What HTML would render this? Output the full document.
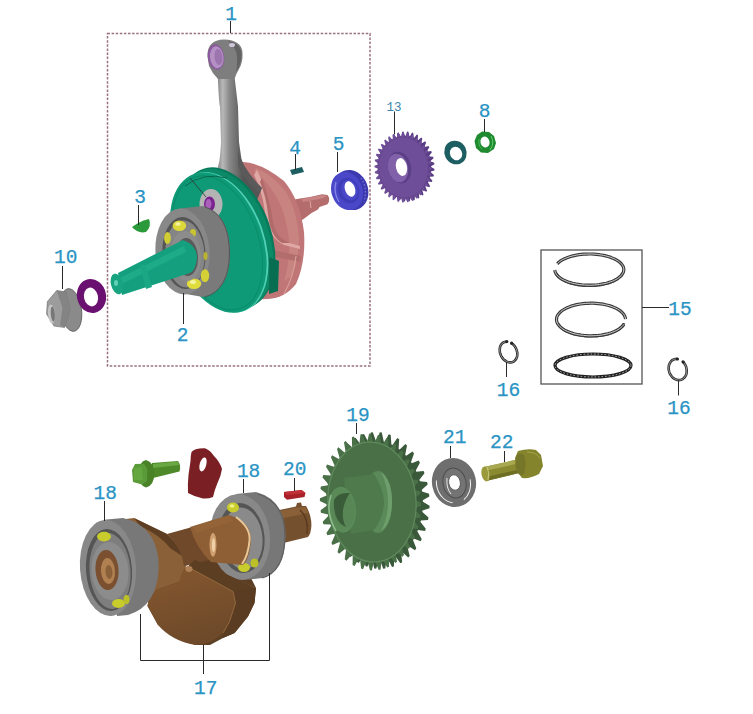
<!DOCTYPE html>
<html><head><meta charset="utf-8">
<style>
html,body{margin:0;padding:0;background:#fff;width:753px;height:714px;overflow:hidden}
svg{display:block}
.lb{font-family:"Liberation Mono",monospace;font-size:19.5px;fill:#2a94c4;stroke:#2a94c4;stroke-width:0.25px}
.ld{stroke:#2a2a2a;stroke-width:1;fill:none}
</style></head><body>
<svg width="753" height="714" viewBox="0 0 753 714">
<defs></defs>
<!-- dashed box -->
<rect x="107.5" y="33.5" width="262.5" height="332.5" fill="none" stroke="#98727e" stroke-width="1.5" stroke-dasharray="2.5 1.6"/>
<!-- piston ring box -->
<rect x="541" y="250" width="101" height="134" fill="none" stroke="#555" stroke-width="1.3"/>

<g id="parts">
<!-- ============ TOP ASSEMBLY ============ -->
<!-- pink shaft right -->
<path d="M291,200 L301.6,198.3 L310,197 L322,194.3 L327.5,195 Q331,199 327.5,204.3 L319.5,207 L318,209.6 L311.5,213 L303,219.5 L294,222 Z" fill="#b46c6c"/>
<path d="M301.6,199 L322,195 L327,196 L322,198.5 L303,202 Z" fill="#c88484"/>
<path d="M310,201 L311,208" stroke="#e0a8a8" stroke-width="1" fill="none"/>
<!-- pink flywheel -->
<path d="M243,162 Q262,163 284,181 Q300,200 304,232 Q306,262 296,284 Q285,298 268,299 L238,300 L236,170 Z" fill="#c07676"/>
<path d="M256,168 Q274,176 286,192 Q297,210 299,238 Q299,258 292,276 L284,281 Q290,262 289,240 Q286,210 272,190 Q264,178 254,172 Z" fill="#c88480"/>
<path d="M257,170 Q265,185 268,208 Q272,234 286,242 L300,246 L300,249 L284,245 Q268,238 265,212 Q262,190 254,175 Z" fill="#e0a8a4"/>
<path d="M262,178 Q270,200 273,222 Q276,238 290,243 L282,243 Q270,236 268,214 Q266,196 260,182 Z" fill="#b06a6a"/>
<path d="M272,250 L301,256 L300,262 L272,256 Z" fill="#b26e6c"/>
<path d="M296,256 Q294,276 284,294" stroke="#d89c98" stroke-width="1.2" fill="none"/>
<!-- connecting rod -->
<defs><linearGradient id="rodg" gradientUnits="userSpaceOnUse" x1="216" y1="0" x2="243" y2="0">
<stop offset="0" stop-color="#7a7a7a"/><stop offset="0.25" stop-color="#b8b8b8"/><stop offset="0.5" stop-color="#888"/><stop offset="0.8" stop-color="#6a6a6a"/><stop offset="1" stop-color="#555"/></linearGradient></defs>
<path d="M217.6,73 Q219,106 220,106.4 Q221,142 221,142 Q220,160 218.8,163.6 L216.4,173 L232,180 L257,200 L262,188 Q250,178 247.4,173 Q243,165 241.4,158.8 Q239,142 239,142 L238,106.4 Q235,80 234,73 Z" fill="url(#rodg)"/>
<path d="M216.4,173 L232,180 L257,200 L250,203 L230,186 L216,180 Z" fill="#707070"/>
<path d="M238,150 Q242,168 262,188 L258,192 Q244,180 238,166 Z" fill="#5a5a5a"/>
<!-- rod small end -->
<path d="M207.5,56 Q207,40 224,39.5 Q242,40 242.5,53 Q243,63 238.5,70 Q236,74 234.5,79 L218,79 Q212,73 209,66 Z" fill="#7e7e7e"/>
<path d="M228,41 Q241,43 241.5,54 Q241.5,64 236,72 Q238,62 236.5,53 Q234,45 228,41 Z" fill="#626262"/>
<ellipse cx="216" cy="57" rx="8.3" ry="12.8" transform="rotate(-6 216 57)" fill="#8a5a9c"/>
<ellipse cx="216.8" cy="57.2" rx="6.8" ry="11" transform="rotate(-6 216.8 57.2)" fill="#b490c4"/>
<ellipse cx="218.5" cy="57" rx="4" ry="8" transform="rotate(-6 218.5 57)" fill="#9c74ae"/>
<ellipse cx="232" cy="45" rx="3" ry="2" fill="#d0c4d8"/>
<!-- green flywheel back/rim -->
<ellipse cx="227" cy="237.5" rx="44.4" ry="72.8" transform="rotate(-19.5 227 237.5)" fill="#087a5c"/>
<ellipse cx="225" cy="239" rx="44.4" ry="72.8" transform="rotate(-19.5 225 239)" fill="#0b8a68"/>
<ellipse cx="220" cy="242.3" rx="44.4" ry="72.8" transform="rotate(-19.5 220 242.3)" fill="#50d0b6"/>
<path d="M269,257 L279,261 L278,291 L269,294 Z" fill="#086e52"/>
<!-- green front face -->
<ellipse cx="218.2" cy="242.6" rx="44.4" ry="72.8" transform="rotate(-19.5 218.2 242.6)" fill="#0e9a76"/>
<ellipse cx="217.5" cy="242.8" rx="41" ry="69.5" transform="rotate(-19.5 217.5 242.8)" fill="none" stroke="#0a8c6a" stroke-width="1"/>
<path d="M185,186 Q203,172 227,178" stroke="#0a5a44" stroke-width="0.8" fill="none"/>
<!-- crank pin boss -->
<ellipse cx="211" cy="204" rx="11.5" ry="15" fill="#b4b4b4"/>
<ellipse cx="209.5" cy="204" rx="5.5" ry="7.5" fill="#7a2290"/>
<ellipse cx="208.5" cy="204" rx="3" ry="5" fill="#a860b8"/>
<path d="M190,178 L206,197" stroke="#303030" stroke-width="0.8"/>
<!-- bearing 2 -->
<path d="M180,208.5 L203,206 Q230,214 230,253 Q230,291 203,297 L186,294 Z" fill="#7a7a7a"/>
<path d="M205,207 Q229,215 229.5,253 Q229,290 205,297" stroke="#555555" stroke-width="1" fill="none"/>
<ellipse cx="182.5" cy="251.5" rx="27" ry="43" transform="rotate(-4 182.5 251.5)" fill="#888888"/>
<ellipse cx="184" cy="253" rx="21.5" ry="36" transform="rotate(-4 184 253)" fill="#555555"/>
<ellipse cx="185" cy="254" rx="19.5" ry="33.5" transform="rotate(-4 185 254)" fill="#858585"/>
<!-- balls -->
<ellipse cx="179.4" cy="225.7" rx="6.8" ry="5.2" fill="#dcd83a"/>
<ellipse cx="178" cy="224" rx="2.8" ry="1.8" fill="#f4f4a0"/>
<ellipse cx="167.5" cy="238" rx="3.4" ry="6" fill="#d0cc34"/>
<ellipse cx="193" cy="233" rx="3" ry="4" fill="#c8c430"/>
<ellipse cx="194" cy="283.8" rx="7.2" ry="5.2" fill="#e0dc3c"/>
<ellipse cx="193" cy="282" rx="3" ry="2" fill="#f4f4a0"/>
<ellipse cx="205" cy="275.7" rx="4.2" ry="6.5" fill="#d4d036"/>
<ellipse cx="205.5" cy="256" rx="2" ry="4" fill="#b8b42c"/>
<ellipse cx="186" cy="256" rx="15" ry="25" transform="rotate(-4 186 256)" fill="#8c8c8c"/>
<ellipse cx="187" cy="257" rx="11" ry="19" transform="rotate(-4 187 257)" fill="#5a5a5a"/>
<!-- left shaft -->
<path d="M118,273 L183,240 Q197,245 197,258 Q196,270 190,273 L122,295 Z" fill="#14a07e"/>
<path d="M120,278 L184,246 L186,252 L122,284 Z" fill="#1eac88"/>
<path d="M140,266 L145,264 L152,287 L146,289 Z" fill="#1aa884"/>
<ellipse cx="117" cy="284" rx="6" ry="10.5" transform="rotate(-15 117 284)" fill="#18a480"/>
<ellipse cx="116" cy="283" rx="2" ry="3" fill="#60d0b8"/>
<!-- key 3 -->
<path d="M132,227 Q140,221 149,219 Q152,226 146,232 Q138,234 132,227 Z" fill="#2a9a3a"/>
<!-- key 4 -->
<path d="M290,170 L302,167 L304,172 L292,175 Z" fill="#1d5e62"/>
<!-- bearing 5 -->
<ellipse cx="351" cy="190" rx="17" ry="20.5" transform="rotate(-20 351 190)" fill="#3c3aae"/>
<ellipse cx="347" cy="191" rx="15.5" ry="19.5" transform="rotate(-20 347 191)" fill="#4a48c8"/>
<ellipse cx="348.5" cy="190.5" rx="10.5" ry="13" transform="rotate(-20 348.5 190.5)" fill="#3e3cb6"/>
<ellipse cx="349.5" cy="190" rx="8" ry="10.5" transform="rotate(-20 349.5 190)" fill="#4a48c8"/>
<ellipse cx="350" cy="189" rx="5" ry="8" transform="rotate(-20 350 189)" fill="#ffffff"/>
<path d="M336,182 Q333,192 339,202" stroke="#8886e8" stroke-width="1.3" fill="none"/>
<path d="M361,178 Q368,188 364,202" stroke="#7c7ae0" stroke-width="1.2" fill="none" stroke-dasharray="1.5 2"/>
<!-- nut 10 -->
<ellipse cx="71" cy="310" rx="10.5" ry="21.5" transform="rotate(-8 71 310)" fill="#8a8a8a" stroke="#5a5a5a" stroke-width="0.8"/>
<path d="M47.4,301.5 L56.7,290.5 L66,292 L70,310 L64.5,327.5 L54,326 L46.5,314 Z" fill="#9c9c9c" stroke="#6a6a6a" stroke-width="0.6"/>
<path d="M56.7,290.5 L66,292 L70,310 L64.5,327.5 L60,325 L62.5,308 Z" fill="#848484"/>
<ellipse cx="51.5" cy="314" rx="3.5" ry="9.5" transform="rotate(-5 51.5 314)" fill="#c4c4c4"/>
<ellipse cx="52.8" cy="314" rx="2" ry="7.5" transform="rotate(-5 52.8 314)" fill="#777"/>
<!-- washer purple -->
<ellipse cx="91.5" cy="296" rx="14.5" ry="17" transform="rotate(-12 91.5 296)" fill="#6a1070"/>
<ellipse cx="91" cy="297" rx="7" ry="9.5" transform="rotate(-12 91 297)" fill="#fff"/>
<!-- gear 13 -->
<path d="M431.1,166.6 L431.1,167.0 L434.5,168.9 L434.4,170.4 L430.9,171.5 L430.8,171.9 L430.8,172.3 L433.9,174.9 L433.6,176.4 L429.9,176.7 L429.8,177.1 L429.7,177.5 L432.4,180.7 L431.9,182.1 L428.2,181.6 L428.1,182.0 L427.9,182.3 L430.1,186.0 L429.4,187.3 L425.8,186.0 L425.6,186.4 L425.4,186.7 L427.1,190.8 L426.3,191.8 L422.9,189.9 L422.6,190.1 L422.4,190.4 L423.5,194.8 L422.5,195.6 L419.4,193.0 L419.1,193.2 L418.8,193.4 L419.3,197.9 L418.2,198.6 L415.5,195.3 L415.2,195.5 L414.9,195.6 L414.7,200.1 L413.5,200.5 L411.3,196.8 L411.0,196.8 L410.7,196.9 L409.8,201.3 L408.6,201.4 L407.0,197.3 L406.6,197.3 L406.3,197.3 L404.9,201.4 L403.6,201.3 L402.6,196.9 L402.3,196.8 L402.0,196.7 L399.9,200.4 L398.7,200.0 L398.3,195.5 L398.0,195.4 L397.7,195.2 L395.2,198.5 L394.0,197.8 L394.3,193.3 L394.0,193.1 L393.7,192.9 L390.8,195.5 L389.7,194.6 L390.6,190.3 L390.4,190.0 L390.1,189.8 L386.8,191.7 L385.9,190.6 L387.4,186.5 L387.2,186.2 L387.0,185.9 L383.4,187.1 L382.7,185.8 L384.8,182.2 L384.6,181.8 L384.4,181.5 L380.7,181.9 L380.2,180.5 L382.8,177.3 L382.6,176.9 L382.5,176.6 L378.8,176.2 L378.5,174.7 L381.5,172.1 L381.4,171.7 L381.3,171.4 L377.7,170.2 L377.6,168.7 L380.9,166.8 L380.9,166.4 L380.9,166.0 L377.5,164.1 L377.6,162.6 L381.1,161.5 L381.2,161.1 L381.2,160.7 L378.1,158.1 L378.4,156.6 L382.1,156.3 L382.2,155.9 L382.3,155.5 L379.6,152.3 L380.1,150.9 L383.8,151.4 L383.9,151.0 L384.1,150.7 L381.9,147.0 L382.6,145.7 L386.2,147.0 L386.4,146.6 L386.6,146.3 L384.9,142.2 L385.7,141.2 L389.1,143.1 L389.4,142.9 L389.6,142.6 L388.5,138.2 L389.5,137.4 L392.6,140.0 L392.9,139.8 L393.2,139.6 L392.7,135.1 L393.8,134.4 L396.5,137.7 L396.8,137.5 L397.1,137.4 L397.3,132.9 L398.5,132.5 L400.7,136.2 L401.0,136.2 L401.3,136.1 L402.2,131.7 L403.4,131.6 L405.0,135.7 L405.4,135.7 L405.7,135.7 L407.1,131.6 L408.4,131.7 L409.4,136.1 L409.7,136.2 L410.0,136.3 L412.1,132.6 L413.3,133.0 L413.7,137.5 L414.0,137.6 L414.3,137.8 L416.8,134.5 L418.0,135.2 L417.7,139.7 L418.0,139.9 L418.3,140.1 L421.2,137.5 L422.3,138.4 L421.4,142.7 L421.6,143.0 L421.9,143.2 L425.2,141.3 L426.1,142.4 L424.6,146.5 L424.8,146.8 L425.0,147.1 L428.6,145.9 L429.3,147.2 L427.2,150.8 L427.4,151.2 L427.6,151.5 L431.3,151.1 L431.8,152.5 L429.2,155.7 L429.4,156.1 L429.5,156.4 L433.2,156.8 L433.5,158.3 L430.5,160.9 L430.6,161.3 L430.7,161.6 L434.3,162.8 L434.4,164.3 L431.1,166.2 Z" fill="#5a3c84"/><path d="M428.0,165.8 L428.0,166.2 L431.5,167.8 L431.5,169.3 L428.0,170.7 L428.0,171.1 L428.0,171.5 L431.2,173.9 L431.0,175.4 L427.3,176.0 L427.2,176.4 L427.2,176.7 L430.0,179.7 L429.6,181.2 L425.9,181.0 L425.7,181.3 L425.6,181.7 L428.0,185.2 L427.4,186.5 L423.7,185.6 L423.5,185.9 L423.4,186.2 L425.2,190.2 L424.4,191.3 L421.0,189.6 L420.7,189.9 L420.5,190.2 L421.8,194.5 L420.8,195.4 L417.6,193.0 L417.4,193.2 L417.1,193.5 L417.8,197.9 L416.7,198.7 L413.9,195.6 L413.6,195.8 L413.3,195.9 L413.3,200.5 L412.1,200.9 L409.8,197.4 L409.5,197.5 L409.1,197.5 L408.5,202.0 L407.3,202.2 L405.5,198.2 L405.1,198.2 L404.8,198.2 L403.6,202.5 L402.3,202.4 L401.1,198.1 L400.8,198.1 L400.4,198.0 L398.6,201.9 L397.4,201.6 L396.8,197.1 L396.5,197.0 L396.1,196.9 L393.8,200.3 L392.6,199.7 L392.6,195.2 L392.4,195.0 L392.1,194.8 L389.2,197.6 L388.2,196.8 L388.8,192.4 L388.6,192.2 L388.3,191.9 L385.1,194.1 L384.2,193.1 L385.4,188.9 L385.2,188.6 L385.0,188.3 L381.5,189.7 L380.7,188.6 L382.6,184.7 L382.4,184.4 L382.2,184.0 L378.6,184.7 L378.0,183.4 L380.4,180.0 L380.2,179.7 L380.1,179.3 L376.4,179.2 L376.0,177.7 L378.8,174.9 L378.7,174.6 L378.7,174.2 L375.0,173.3 L374.8,171.8 L378.0,169.7 L378.0,169.2 L378.0,168.8 L374.5,167.2 L374.5,165.7 L378.0,164.3 L378.0,163.9 L378.0,163.5 L374.8,161.1 L375.0,159.6 L378.7,159.0 L378.8,158.6 L378.8,158.3 L376.0,155.3 L376.4,153.8 L380.1,154.0 L380.3,153.7 L380.4,153.3 L378.0,149.8 L378.6,148.5 L382.3,149.4 L382.5,149.1 L382.6,148.8 L380.8,144.8 L381.6,143.7 L385.0,145.4 L385.3,145.1 L385.5,144.8 L384.2,140.5 L385.2,139.6 L388.4,142.0 L388.6,141.8 L388.9,141.5 L388.2,137.1 L389.3,136.3 L392.1,139.4 L392.4,139.2 L392.7,139.1 L392.7,134.5 L393.9,134.1 L396.2,137.6 L396.5,137.5 L396.9,137.5 L397.5,133.0 L398.7,132.8 L400.5,136.8 L400.9,136.8 L401.2,136.8 L402.4,132.5 L403.7,132.6 L404.9,136.9 L405.2,136.9 L405.6,137.0 L407.4,133.1 L408.6,133.4 L409.2,137.9 L409.5,138.0 L409.9,138.1 L412.2,134.7 L413.4,135.3 L413.4,139.8 L413.6,140.0 L413.9,140.2 L416.8,137.4 L417.8,138.2 L417.2,142.6 L417.4,142.8 L417.7,143.1 L420.9,140.9 L421.8,141.9 L420.6,146.1 L420.8,146.4 L421.0,146.7 L424.5,145.3 L425.3,146.4 L423.4,150.3 L423.6,150.6 L423.8,151.0 L427.4,150.3 L428.0,151.6 L425.6,155.0 L425.8,155.3 L425.9,155.7 L429.6,155.8 L430.0,157.3 L427.2,160.1 L427.3,160.4 L427.3,160.8 L431.0,161.7 L431.2,163.2 L428.0,165.3 Z" fill="#6e4e98"/><ellipse cx="403.5" cy="167.5" rx="25" ry="30.5" transform="rotate(-4 403.5 167.5)" fill="#6e4e98" stroke="#624488" stroke-width="0.8"/><ellipse cx="399.5" cy="167.5" rx="11.5" ry="16" transform="rotate(-12 399.5 167.5)" fill="#5a3e86"/><ellipse cx="398" cy="168" rx="10" ry="14.5" transform="rotate(-12 398 168)" fill="#8060a8"/><ellipse cx="401.5" cy="167" rx="5.5" ry="9" transform="rotate(-12 401.5 167)" fill="#fff"/>
<!-- teal ring -->
<ellipse cx="455.5" cy="152.5" rx="11" ry="12" transform="rotate(-25 455.5 152.5)" fill="#1d5e62"/>
<ellipse cx="456" cy="153.5" rx="6" ry="7" transform="rotate(-25 456 153.5)" fill="#fff"/>
<!-- nut 8 -->
<path d="M477,135 L482,131.5 L489,132 L494,136 L496,143 L494,149 L488,153 L481,152.5 L476,148 L474.5,141 Z" fill="#1f8a2f"/>
<ellipse cx="485" cy="142" rx="4.5" ry="5.5" transform="rotate(-15 485 142)" fill="#fff"/>
<path d="M491,136 Q495,143 490,150" stroke="#60d070" stroke-width="1" fill="none"/>
<path d="M479,139 Q478,146 482,149" stroke="#50c060" stroke-width="0.8" fill="none"/>
<defs><linearGradient id="cwg" x1="0" y1="0" x2="0.3" y2="1"><stop offset="0" stop-color="#86582f"/><stop offset="1" stop-color="#6e4a2a"/></linearGradient></defs>
<!-- ============ BOTTOM ASSEMBLY ============ -->
<path d="M183,567 L212,556 L240,556 L256,588 L195,561 Z" fill="#5e3e22"/>
<!-- right shaft end -->
<path d="M270,512 L296,506.5 L297,503 L301,502.5 L302,506 L306,506 Q311.5,515 311.4,525.6 Q311,534 308,537 L285.4,542.6 L272,540 Z" fill="#74502e"/>
<path d="M272,513 L296,507.5 L306,507 L308,513 L274,520 Z" fill="#8a6038"/>
<path d="M300,510 Q309,518 307,534" stroke="#5a3a1c" stroke-width="1.5" fill="none"/>
<!-- right bearing 18 -->
<path d="M236,494 L256,492 Q286,500 285.5,537 Q285,572 262,578 L244,580 Z" fill="#777777"/>
<path d="M258,494 Q285,502 285,537 Q284,572 262,578" stroke="#606060" stroke-width="1.2" fill="none"/>
<ellipse cx="240" cy="537" rx="30" ry="43" transform="rotate(-5 240 537)" fill="#888888"/>
<ellipse cx="241.5" cy="538" rx="23" ry="35" transform="rotate(-5 241.5 538)" fill="#555555"/>
<ellipse cx="242.5" cy="538.5" rx="20" ry="31" transform="rotate(-5 242.5 538.5)" fill="#8a8a8a"/>
<ellipse cx="233" cy="507.5" rx="6" ry="5" fill="#c8cc2c"/>
<ellipse cx="232" cy="506" rx="2.5" ry="1.8" fill="#eef080"/>
<ellipse cx="244" cy="567.5" rx="6" ry="4.5" fill="#c8cc2c"/>
<ellipse cx="254.5" cy="563" rx="4" ry="4.5" fill="#bcc028"/>
<!-- balancer: web behind left bearing -->
<path d="M126,519 L134,518 L167,534 Q183,548 186,566 Q185,582 178,590 L150,590 Z" fill="#8a6038"/>
<path d="M134,518 L167,534 Q178,544 182,556 L170,548 Q160,535 140,526 Z" fill="#5e3e22"/>
<!-- shaft neck -->
<path d="M167,534 L196,526 L211,559.5 L184,566 Q182,548 167,534 Z" fill="#70492a"/>
<!-- collar -->
<path d="M190,527 L229,515 Q252,522 251,541 Q249,560 243,565 L211,562 Q196,548 190,527 Z" fill="#8e5e34"/>
<path d="M192,527 L229,515.5 L234,521 L196,533 Z" fill="#946438"/>
<ellipse cx="213" cy="544.7" rx="3.5" ry="12" fill="#d0a070"/>
<ellipse cx="213.5" cy="545" rx="1.6" ry="7" fill="#f0d0a8"/>
<path d="M236,517 Q251,528 249.5,541 Q248,556 242,564" stroke="#e8c898" stroke-width="2" fill="none"/>
<!-- counterweight -->
<path d="M179.8,581.5 L188,566.6 L195,560 L256,588 L254.5,603 L248,616.4 L234.6,633 L223,638 L210,645 L195,645 L158,625 L147.5,606 L150,592 Z" fill="#5e4024"/>
<path d="M179.8,581.5 Q182,567 188,566.6 L233,591.5 L235.5,603 L229.6,621.4 L223,633 Q210,645 195,645 Q172,641 158,625 L147.5,606 L150,592 Z" fill="url(#cwg)"/>
<path d="M188,566.6 L195,560 L256,588 L233,591.5 Z" fill="#5c3e22"/>
<path d="M233,591.5 L256,588 L254.5,603 L248,616.4 L234.6,633 L223,638 L223,633 L229.6,621.4 L235.5,603 Z" fill="#5a3c22"/>
<path d="M188,567 L233,591.5 L235.5,603 L229.6,621.4 L223,633" stroke="#94683c" stroke-width="1" fill="none"/>
<ellipse cx="189" cy="569" rx="3.5" ry="3" fill="#b08058"/>
<!-- left bearing 18 -->
<path d="M104,519.7 L123,518 Q158,526 158.7,566 Q158,606 128,615 L117,616 Z" fill="#787878"/>
<ellipse cx="108" cy="568" rx="28" ry="48" transform="rotate(-4 108 568)" fill="#888888"/>
<ellipse cx="109" cy="570" rx="23" ry="41" transform="rotate(-4 109 570)" fill="#555555"/>
<ellipse cx="110" cy="571" rx="20.5" ry="38" transform="rotate(-4 110 571)" fill="#7e7e7e"/>
<ellipse cx="104" cy="536.6" rx="7" ry="4.8" fill="#c8cc2c"/>
<ellipse cx="118.5" cy="603.4" rx="6.5" ry="4.5" fill="#c8cc2c"/>
<ellipse cx="126.5" cy="599.4" rx="3" ry="4.5" fill="#bcc028"/>
<ellipse cx="110" cy="571" rx="18.5" ry="29" transform="rotate(-4 110 571)" fill="#8c8c8c"/>
<ellipse cx="107" cy="570" rx="11.5" ry="20" transform="rotate(-4 107 570)" fill="#7a5030"/>
<ellipse cx="108" cy="571" rx="7" ry="13" transform="rotate(-4 108 571)" fill="#b08050"/>
<ellipse cx="109" cy="572" rx="3.5" ry="7" transform="rotate(-4 109 572)" fill="#8a6038"/>
<!-- green bolt -->
<path d="M152,463 L178,461 Q181.5,466 179.4,471.4 L152,478.3 Z" fill="#4e8a2a"/>
<path d="M153,464 L178,461.5 L179,465 L153,468 Z" fill="#6aa844"/>
<path d="M146,460 Q154,462 154.3,474 Q154,486 146,487.4 Q139,486 139,474 Q139,461 146,460 Z" fill="#4a8228"/>
<path d="M135,464 L144,463.7 L147.3,469 L147,481 L142,484.6 L133,482 L132,470 Z" fill="#5a9a38"/>
<path d="M134,468 L142,467 L143,480 L134,480 Z" fill="#64a640"/>
<!-- red plate -->
<path d="M191.5,452 Q194,448 205,448.2 Q210,450 214,456 Q220,462 222,469 Q221,476 217.5,483 Q214.5,490 213,497 Q208,499 203,498.5 Q195,497 188,493 Q187.5,484 188.5,475 Q189.5,468 190.5,461 Q190.5,456 191.5,452 Z" fill="#7a2024"/>
<ellipse cx="203" cy="464.4" rx="3.3" ry="7.2" transform="rotate(15 203 464.4)" fill="#fff"/>
<!-- red key 20 -->
<path d="M284,492 L301.6,490 L305.5,493 L304.5,497 L287,499.8 L284,497 Z" fill="#a82028"/>
<path d="M284,492 L301.6,490 L305.5,493 L287,495 Z" fill="#c03038"/>
<!-- gear 19 -->
<path d="M422.9,500.9 L422.9,501.7 L429.6,505.7 L429.5,508.3 L422.5,510.5 L422.4,511.3 L422.4,512.0 L428.5,517.4 L428.0,520.0 L420.8,520.5 L420.7,521.3 L420.5,522.0 L425.8,528.7 L425.1,531.1 L417.9,530.0 L417.6,530.7 L417.3,531.3 L421.7,539.1 L420.7,541.2 L413.7,538.5 L413.3,539.1 L412.9,539.7 L416.3,548.3 L415.0,550.2 L408.4,545.9 L408.0,546.4 L407.5,546.9 L409.7,556.1 L408.2,557.6 L402.2,551.9 L401.7,552.3 L401.2,552.7 L402.2,562.2 L400.4,563.3 L395.3,556.3 L394.7,556.6 L394.2,556.8 L393.9,566.4 L392.0,567.0 L387.8,559.1 L387.2,559.2 L386.7,559.3 L385.2,568.6 L383.2,568.8 L380.1,560.0 L379.5,560.0 L378.9,560.0 L376.2,568.7 L374.2,568.5 L372.2,559.2 L371.7,559.0 L371.1,558.9 L367.3,566.8 L365.3,566.1 L364.6,556.6 L364.0,556.3 L363.5,556.0 L358.7,562.9 L356.8,561.7 L357.4,552.2 L356.8,551.8 L356.3,551.4 L350.6,557.0 L349.0,555.5 L350.8,546.3 L350.3,545.8 L349.8,545.3 L343.5,549.4 L342.0,547.6 L345.0,539.0 L344.6,538.4 L344.2,537.8 L337.3,540.4 L336.1,538.2 L340.2,530.6 L339.9,529.9 L339.6,529.2 L332.4,530.1 L331.5,527.8 L336.6,521.2 L336.3,520.4 L336.1,519.7 L328.9,519.0 L328.3,516.4 L334.2,511.2 L334.1,510.4 L334.0,509.6 L326.9,507.3 L326.7,504.6 L333.2,500.8 L333.1,500.1 L333.1,499.3 L326.4,495.3 L326.5,492.7 L333.5,490.5 L333.6,489.7 L333.6,489.0 L327.5,483.6 L328.0,481.0 L335.2,480.5 L335.3,479.7 L335.5,479.0 L330.2,472.3 L330.9,469.9 L338.1,471.0 L338.4,470.3 L338.7,469.7 L334.3,461.9 L335.3,459.8 L342.3,462.5 L342.7,461.9 L343.1,461.3 L339.7,452.7 L341.0,450.8 L347.6,455.1 L348.0,454.6 L348.5,454.1 L346.3,444.9 L347.8,443.4 L353.8,449.1 L354.3,448.7 L354.8,448.3 L353.8,438.8 L355.6,437.7 L360.7,444.7 L361.3,444.4 L361.8,444.2 L362.1,434.6 L364.0,434.0 L368.2,441.9 L368.8,441.8 L369.3,441.7 L370.8,432.4 L372.8,432.2 L375.9,441.0 L376.5,441.0 L377.1,441.0 L379.8,432.3 L381.8,432.5 L383.8,441.8 L384.3,442.0 L384.9,442.1 L388.7,434.2 L390.7,434.9 L391.4,444.4 L392.0,444.7 L392.5,445.0 L397.3,438.1 L399.2,439.3 L398.6,448.8 L399.2,449.2 L399.7,449.6 L405.4,444.0 L407.0,445.5 L405.2,454.7 L405.7,455.2 L406.2,455.7 L412.5,451.6 L414.0,453.4 L411.0,462.0 L411.4,462.6 L411.8,463.2 L418.7,460.6 L419.9,462.8 L415.8,470.4 L416.1,471.1 L416.4,471.8 L423.6,470.9 L424.5,473.2 L419.4,479.8 L419.7,480.6 L419.9,481.3 L427.1,482.0 L427.7,484.6 L421.8,489.8 L421.9,490.6 L422.0,491.4 L429.1,493.7 L429.3,496.4 L422.8,500.2 Z" fill="#3a583a"/><path d="M414.3,498.9 L414.4,499.7 L421.1,503.1 L421.1,505.8 L414.4,508.5 L414.4,509.3 L414.3,510.1 L420.5,515.0 L420.2,517.6 L413.2,518.7 L413.1,519.5 L413.0,520.2 L418.5,526.5 L417.8,528.9 L410.8,528.4 L410.5,529.1 L410.3,529.8 L415.0,537.2 L414.0,539.4 L407.1,537.2 L406.7,537.9 L406.4,538.5 L410.1,546.8 L408.9,548.8 L402.3,545.0 L401.9,545.6 L401.4,546.1 L404.0,555.1 L402.6,556.8 L396.5,551.5 L396.0,552.0 L395.5,552.4 L397.0,561.8 L395.3,563.0 L389.9,556.5 L389.4,556.8 L388.9,557.1 L389.1,566.7 L387.2,567.5 L382.8,559.8 L382.2,560.0 L381.6,560.2 L380.6,569.6 L378.7,569.9 L375.2,561.4 L374.7,561.4 L374.1,561.5 L371.8,570.4 L369.9,570.3 L367.6,561.2 L367.0,561.1 L366.4,561.0 L363.0,569.2 L361.1,568.6 L360.0,559.1 L359.4,558.9 L358.9,558.7 L354.5,565.9 L352.6,564.9 L352.7,555.4 L352.2,555.0 L351.7,554.7 L346.4,560.7 L344.7,559.3 L346.0,550.0 L345.5,549.5 L345.0,549.0 L339.0,553.7 L337.5,551.9 L340.0,543.1 L339.6,542.6 L339.2,542.0 L332.6,545.1 L331.4,543.0 L335.0,535.0 L334.6,534.4 L334.3,533.7 L327.4,535.2 L326.4,532.9 L331.0,525.9 L330.7,525.2 L330.5,524.5 L323.4,524.3 L322.7,521.8 L328.2,516.1 L328.1,515.3 L327.9,514.6 L320.9,512.8 L320.6,510.2 L326.7,505.8 L326.7,505.1 L326.6,504.3 L319.9,500.9 L319.9,498.2 L326.6,495.5 L326.6,494.7 L326.7,493.9 L320.5,489.0 L320.8,486.4 L327.8,485.3 L327.9,484.5 L328.0,483.8 L322.5,477.5 L323.2,475.1 L330.2,475.6 L330.5,474.9 L330.7,474.2 L326.0,466.8 L327.0,464.6 L333.9,466.8 L334.3,466.1 L334.6,465.5 L330.9,457.2 L332.1,455.2 L338.7,459.0 L339.1,458.4 L339.6,457.9 L337.0,448.9 L338.4,447.2 L344.5,452.5 L345.0,452.0 L345.5,451.6 L344.0,442.2 L345.7,441.0 L351.1,447.5 L351.6,447.2 L352.1,446.9 L351.9,437.3 L353.8,436.5 L358.2,444.2 L358.8,444.0 L359.4,443.8 L360.4,434.4 L362.3,434.1 L365.8,442.6 L366.3,442.6 L366.9,442.5 L369.2,433.6 L371.1,433.7 L373.4,442.8 L374.0,442.9 L374.6,443.0 L378.0,434.8 L379.9,435.4 L381.0,444.9 L381.6,445.1 L382.1,445.3 L386.5,438.1 L388.4,439.1 L388.3,448.6 L388.8,449.0 L389.3,449.3 L394.6,443.3 L396.3,444.7 L395.0,454.0 L395.5,454.5 L396.0,455.0 L402.0,450.3 L403.5,452.1 L401.0,460.9 L401.4,461.4 L401.8,462.0 L408.4,458.9 L409.6,461.0 L406.0,469.0 L406.4,469.6 L406.7,470.3 L413.6,468.8 L414.6,471.1 L410.0,478.1 L410.3,478.8 L410.5,479.5 L417.6,479.7 L418.3,482.2 L412.8,487.9 L412.9,488.7 L413.1,489.4 L420.1,491.2 L420.4,493.8 L414.3,498.2 Z" fill="#4a7048"/><ellipse cx="372" cy="502" rx="44" ry="60" transform="rotate(-4 372 502)" fill="#4a7048" stroke="#5e8a5c" stroke-width="1.2"/><ellipse cx="378" cy="502" rx="14" ry="31" fill="#5a8a58"/><path d="M381,472 Q392,480 392,502 Q392,524 381,531 Q388,518 388,502 Q388,486 381,472 Z" fill="#6e9e6c"/><path d="M344,478 L374,474 Q384,490 384,502 Q384,516 374,530 L351,534 Z" fill="#4e7a4c"/><ellipse cx="342" cy="509.7" rx="14" ry="23" transform="rotate(-5 342 509.7)" fill="#5a8a57"/><ellipse cx="343.5" cy="510" rx="10.8" ry="17.5" transform="rotate(-5 343.5 510)" fill="#588655"/><path d="M334,500 Q338,492 350,493 Q345,499 343,510 Q342,521 346,527 Q333,522 334,500 Z" fill="#3a5c38"/><path d="M331,495 Q325,512 336,531" stroke="#8cbc8a" stroke-width="1.6" fill="none"/>
<!-- washer 21 -->
<ellipse cx="454" cy="482.5" rx="22" ry="24.5" transform="rotate(-12 454 482.5)" fill="#6e6e6e"/>
<ellipse cx="453.5" cy="483" rx="17" ry="20" transform="rotate(-12 453.5 483)" fill="none" stroke="#f4f4f4" stroke-width="1" stroke-dasharray="22 12 30 100"/>
<ellipse cx="454.5" cy="483" rx="11.5" ry="15" transform="rotate(-12 454.5 483)" fill="#747474" stroke="#4e4e4e" stroke-width="1"/>
<ellipse cx="454.5" cy="482.5" rx="5.8" ry="7.8" transform="rotate(-12 454.5 482.5)" fill="#fff" stroke="#505050" stroke-width="0.8"/>
<path d="M447,478 Q446,488 451,494" stroke="#e8e8e8" stroke-width="1" fill="none"/>
<!-- bolt 22 -->
<path d="M484,467 L524,458 L527,471 L486,481 Z" fill="#8a8a30"/>
<path d="M484,467 L524,458 L525,462 L485,471 Z" fill="#a8a850"/>
<path d="M486,477 L526,468 L527,471 L486,481 Z" fill="#6e6e24"/>
<path d="M518,451 Q528,448 536,450 L541,455 L543,466 L539,474 Q530,479 522,478 L516,470 L515,458 Z" fill="#84842c"/>
<path d="M517,455 Q520,452 524,455 Q527,464 524,474 Q520,477 517,472 Q514,464 517,455 Z" fill="#76762a"/>
<path d="M527,452 Q536,452 540,458" stroke="#a8a850" stroke-width="1" fill="none"/>
<ellipse cx="485.5" cy="474" rx="4" ry="7.5" transform="rotate(-12 485.5 474)" fill="#9a9a3a"/>
<path d="M487,467 Q490,473 488,480" stroke="#c8c880" stroke-width="1" fill="none"/>
<!-- piston rings -->
<g fill="none">
<path d="M622.3,273.2 L622.1,273.8 L621.8,274.3 L621.5,274.8 L621.2,275.3 L620.8,275.8 L620.4,276.3 L619.9,276.8 L619.4,277.3 L618.9,277.7 L618.3,278.2 L617.7,278.7 L617.1,279.1 L616.4,279.5 L615.7,280.0 L615.0,280.4 L614.2,280.8 L613.4,281.2 L612.6,281.5 L611.7,281.9 L610.8,282.2 L609.9,282.6 L609.0,282.9 L608.0,283.2 L607.1,283.5 L606.0,283.8 L605.0,284.0 L604.0,284.3 L602.9,284.5 L601.8,284.7 L600.8,284.9 L599.7,285.1 L598.5,285.2 L597.4,285.3 L596.3,285.5 L595.1,285.6 L594.0,285.7 L592.8,285.7 L591.6,285.8 L590.5,285.8 L589.3,285.8 L588.1,285.8 L587.0,285.8 L585.8,285.7 L584.6,285.7 L583.5,285.6 L582.3,285.5 L581.2,285.3 L580.1,285.2 L578.9,285.1 L577.8,284.9 L576.8,284.7 L575.7,284.5 L574.6,284.3 L573.6,284.0 L572.5,283.8 L571.5,283.5 L570.6,283.2 L569.6,282.9 L568.7,282.6 L567.8,282.2 L566.9,281.9 L566.0,281.5 L565.2,281.2 L564.4,280.8 L563.6,280.4 L562.9,280.0 L562.2,279.5 L561.5,279.1 L560.9,278.7 L560.3,278.2 L559.7,277.7 L559.2,277.3 L558.7,276.8 L558.2,276.3 L557.8,275.8 L557.4,275.3 L557.1,274.8 L556.8,274.3 L556.5,273.8 L556.3,273.2" stroke="#444" stroke-width="2.6"/>
<path d="M557.3,263.8 L558.3,262.7 L559.5,261.7 L560.9,260.7 L562.4,259.8 L564.1,259.0 L565.9,258.2 L567.8,257.4 L569.8,256.7 L571.9,256.1 L574.2,255.6 L576.5,255.1 L578.9,254.7 L581.3,254.4 L583.8,254.2 L586.3,254.1 L588.8,254.0 L591.3,254.0 L593.9,254.1 L596.4,254.3 L598.8,254.6 L601.2,255.0 L603.6,255.4 L605.8,255.9 L608.0,256.5 L610.1,257.1 L612.0,257.9 L613.9,258.6 L615.6,259.5 L617.1,260.4 L618.6,261.3 L619.8,262.3 L620.9,263.4 L621.8,264.4 L622.6,265.5 L623.2,266.6 L623.6,267.8 L623.8,268.9 L623.8,270.0 L623.6,271.2 L623.3,272.3 L622.7,273.4 L622.0,274.5 L621.2,275.6 L620.1,276.6 L618.9,277.6 L617.5,278.6 L616.0,279.5 L614.3,280.4 L612.5,281.2 L610.5,281.9 L608.5,282.6 L606.3,283.2 L604.1,283.7 L601.8,284.1 L599.4,284.5 L596.9,284.8 L594.5,285.0 L591.9,285.2 L589.4,285.2 L586.9,285.2 L584.4,285.0 L581.9,284.8 L579.4,284.5 L577.0,284.2 L574.7,283.7 L572.5,283.2 L570.3,282.6 L568.2,282.0 L566.3,281.2 L564.5,280.4 L562.8,279.6 L561.2,278.7 L559.9,277.7 L558.6,276.7 L557.5,275.7 L556.6,274.6 L555.9,273.5 L555.4,272.4 L555.0,271.3 L554.8,270.1" stroke="#3a3a3a" stroke-width="3.2"/>
<path d="M557.3,263.8 L558.3,262.7 L559.5,261.7 L560.9,260.7 L562.4,259.8 L564.1,259.0 L565.9,258.2 L567.8,257.4 L569.8,256.7 L571.9,256.1 L574.2,255.6 L576.5,255.1 L578.9,254.7 L581.3,254.4 L583.8,254.2 L586.3,254.1 L588.8,254.0 L591.3,254.0 L593.9,254.1 L596.4,254.3 L598.8,254.6 L601.2,255.0 L603.6,255.4 L605.8,255.9 L608.0,256.5 L610.1,257.1 L612.0,257.9 L613.9,258.6 L615.6,259.5 L617.1,260.4 L618.6,261.3 L619.8,262.3 L620.9,263.4 L621.8,264.4 L622.6,265.5 L623.2,266.6 L623.6,267.8 L623.8,268.9 L623.8,270.0 L623.6,271.2 L623.3,272.3 L622.7,273.4 L622.0,274.5 L621.2,275.6 L620.1,276.6 L618.9,277.6 L617.5,278.6 L616.0,279.5 L614.3,280.4 L612.5,281.2 L610.5,281.9 L608.5,282.6 L606.3,283.2 L604.1,283.7 L601.8,284.1 L599.4,284.5 L596.9,284.8 L594.5,285.0 L591.9,285.2 L589.4,285.2 L586.9,285.2 L584.4,285.0 L581.9,284.8 L579.4,284.5 L577.0,284.2 L574.7,283.7 L572.5,283.2 L570.3,282.6 L568.2,282.0 L566.3,281.2 L564.5,280.4 L562.8,279.6 L561.2,278.7 L559.9,277.7 L558.6,276.7 L557.5,275.7 L556.6,274.6 L555.9,273.5 L555.4,272.4 L555.0,271.3 L554.8,270.1" stroke="#e0e0e0" stroke-width="0.9"/>
<path d="M624.0,323.2 L623.8,323.8 L623.5,324.3 L623.2,324.9 L622.9,325.4 L622.5,325.9 L622.1,326.4 L621.6,326.9 L621.1,327.4 L620.6,327.9 L620.0,328.4 L619.4,328.9 L618.8,329.3 L618.1,329.8 L617.4,330.2 L616.7,330.7 L615.9,331.1 L615.1,331.5 L614.3,331.9 L613.4,332.2 L612.5,332.6 L611.6,333.0 L610.7,333.3 L609.7,333.6 L608.8,333.9 L607.8,334.2 L606.7,334.5 L605.7,334.7 L604.6,334.9 L603.5,335.1 L602.5,335.3 L601.4,335.5 L600.2,335.7 L599.1,335.8 L598.0,336.0 L596.8,336.1 L595.7,336.1 L594.5,336.2 L593.3,336.3 L592.2,336.3 L591.0,336.3 L589.8,336.3 L588.7,336.3 L587.5,336.2 L586.3,336.1 L585.2,336.1 L584.0,336.0 L582.9,335.8 L581.8,335.7 L580.6,335.5 L579.5,335.3 L578.5,335.1 L577.4,334.9 L576.3,334.7 L575.3,334.5 L574.2,334.2 L573.2,333.9 L572.3,333.6 L571.3,333.3 L570.4,333.0 L569.5,332.6 L568.6,332.2 L567.7,331.9 L566.9,331.5 L566.1,331.1 L565.3,330.7 L564.6,330.2 L563.9,329.8 L563.2,329.3 L562.6,328.9 L562.0,328.4 L561.4,327.9 L560.9,327.4 L560.4,326.9 L559.9,326.4 L559.5,325.9 L559.1,325.4 L558.8,324.9 L558.5,324.3 L558.2,323.8 L558.0,323.2" stroke="#444" stroke-width="2.6"/>
<path d="M624.0,324.3 L623.1,325.4 L622.1,326.5 L620.9,327.6 L619.6,328.6 L618.0,329.6 L616.4,330.5 L614.6,331.4 L612.6,332.2 L610.6,332.9 L608.4,333.6 L606.1,334.2 L603.8,334.6 L601.3,335.1 L598.8,335.4 L596.3,335.6 L593.8,335.7 L591.2,335.8 L588.6,335.8 L586.1,335.6 L583.5,335.4 L581.0,335.1 L578.6,334.7 L576.2,334.2 L574.0,333.7 L571.8,333.0 L569.7,332.3 L567.7,331.5 L565.9,330.7 L564.2,329.8 L562.7,328.8 L561.3,327.8 L560.0,326.7 L559.0,325.6 L558.1,324.4 L557.4,323.3 L556.9,322.1 L556.6,320.9 L556.5,319.7 L556.6,318.4 L556.8,317.2 L557.3,316.0 L557.9,314.9 L558.8,313.7 L559.8,312.6 L560.9,311.5 L562.3,310.5 L563.8,309.5 L565.4,308.6 L567.2,307.7 L569.2,306.9 L571.2,306.1 L573.4,305.5 L575.6,304.9 L578.0,304.4 L580.4,304.0 L582.9,303.7 L585.4,303.4 L588.0,303.3 L590.5,303.2 L593.1,303.2 L595.7,303.3 L598.2,303.6 L600.7,303.9 L603.1,304.2 L605.5,304.7 L607.8,305.3 L610.0,305.9 L612.1,306.6 L614.1,307.4 L615.9,308.2 L617.6,309.1 L619.2,310.1 L620.6,311.1 L621.8,312.2 L622.9,313.3 L623.8,314.4 L624.5,315.6 L625.0,316.8 L625.4,318.0 L625.5,319.2" stroke="#3a3a3a" stroke-width="3.2"/>
<path d="M624.0,324.3 L623.1,325.4 L622.1,326.5 L620.9,327.6 L619.6,328.6 L618.0,329.6 L616.4,330.5 L614.6,331.4 L612.6,332.2 L610.6,332.9 L608.4,333.6 L606.1,334.2 L603.8,334.6 L601.3,335.1 L598.8,335.4 L596.3,335.6 L593.8,335.7 L591.2,335.8 L588.6,335.8 L586.1,335.6 L583.5,335.4 L581.0,335.1 L578.6,334.7 L576.2,334.2 L574.0,333.7 L571.8,333.0 L569.7,332.3 L567.7,331.5 L565.9,330.7 L564.2,329.8 L562.7,328.8 L561.3,327.8 L560.0,326.7 L559.0,325.6 L558.1,324.4 L557.4,323.3 L556.9,322.1 L556.6,320.9 L556.5,319.7 L556.6,318.4 L556.8,317.2 L557.3,316.0 L557.9,314.9 L558.8,313.7 L559.8,312.6 L560.9,311.5 L562.3,310.5 L563.8,309.5 L565.4,308.6 L567.2,307.7 L569.2,306.9 L571.2,306.1 L573.4,305.5 L575.6,304.9 L578.0,304.4 L580.4,304.0 L582.9,303.7 L585.4,303.4 L588.0,303.3 L590.5,303.2 L593.1,303.2 L595.7,303.3 L598.2,303.6 L600.7,303.9 L603.1,304.2 L605.5,304.7 L607.8,305.3 L610.0,305.9 L612.1,306.6 L614.1,307.4 L615.9,308.2 L617.6,309.1 L619.2,310.1 L620.6,311.1 L621.8,312.2 L622.9,313.3 L623.8,314.4 L624.5,315.6 L625.0,316.8 L625.4,318.0 L625.5,319.2" stroke="#e0e0e0" stroke-width="0.9"/>
<ellipse cx="593" cy="365.5" rx="38" ry="11.5" stroke="#222" stroke-width="3.2"/>
<ellipse cx="593" cy="365.5" rx="38" ry="11.5" stroke="#bbb" stroke-width="1" stroke-dasharray="1.5 2"/>
<!-- clips 16 -->
<path d="M511.6,343.2 L512.5,343.9 L513.4,344.7 L514.2,345.6 L514.9,346.6 L515.6,347.6 L516.1,348.7 L516.6,349.9 L516.9,351.1 L517.2,352.2 L517.3,353.4 L517.3,354.6 L517.2,355.7 L517.0,356.8 L516.6,357.8 L516.2,358.8 L515.6,359.6 L515.0,360.4 L514.3,361.0 L513.5,361.6 L512.6,362.0 L511.7,362.2 L510.8,362.4 L509.8,362.4 L508.8,362.2 L507.8,362.0 L506.8,361.6 L505.8,361.1 L504.9,360.4 L504.0,359.7 L503.1,358.8 L502.4,357.9 L501.7,356.8 L501.1,355.8 L500.6,354.6 L500.2,353.5 L499.9,352.3 L499.8,351.1 L499.7,349.9 L499.8,348.8 L499.9,347.7 L500.2,346.6 L500.6,345.6 L501.1,344.7 L501.7,343.9 L502.4,343.2 L503.1,342.7 L504.0,342.2 L504.9,341.9 L505.8,341.7 L506.8,341.6" stroke="#2a2a2a" stroke-width="2.6"/>
<path d="M511.6,343.2 L512.5,343.9 L513.4,344.7 L514.2,345.6 L514.9,346.6 L515.6,347.6 L516.1,348.7 L516.6,349.9 L516.9,351.1 L517.2,352.2 L517.3,353.4 L517.3,354.6 L517.2,355.7 L517.0,356.8 L516.6,357.8 L516.2,358.8 L515.6,359.6 L515.0,360.4 L514.3,361.0 L513.5,361.6 L512.6,362.0 L511.7,362.2 L510.8,362.4 L509.8,362.4 L508.8,362.2 L507.8,362.0 L506.8,361.6 L505.8,361.1 L504.9,360.4 L504.0,359.7 L503.1,358.8 L502.4,357.9 L501.7,356.8 L501.1,355.8 L500.6,354.6 L500.2,353.5 L499.9,352.3 L499.8,351.1 L499.7,349.9 L499.8,348.8 L499.9,347.7 L500.2,346.6 L500.6,345.6 L501.1,344.7 L501.7,343.9 L502.4,343.2 L503.1,342.7 L504.0,342.2 L504.9,341.9 L505.8,341.7 L506.8,341.6" stroke="#c8c8c8" stroke-width="0.7"/>
<circle cx="511.6" cy="343.2" r="1.6" fill="#222"/><circle cx="506.8" cy="341.6" r="1.6" fill="#222"/>
<path d="M683.0,361.8 L683.8,362.7 L684.5,363.6 L685.1,364.7 L685.7,365.7 L686.1,366.9 L686.4,368.0 L686.6,369.2 L686.7,370.4 L686.7,371.6 L686.6,372.8 L686.4,373.9 L686.0,374.9 L685.6,375.9 L685.0,376.8 L684.4,377.6 L683.6,378.3 L682.8,378.9 L682.0,379.4 L681.1,379.8 L680.1,380.0 L679.1,380.1 L678.1,380.0 L677.1,379.9 L676.1,379.6 L675.1,379.1 L674.1,378.6 L673.2,377.9 L672.3,377.1 L671.6,376.3 L670.9,375.3 L670.2,374.3 L669.7,373.2 L669.3,372.1 L669.0,370.9 L668.7,369.7 L668.7,368.5 L668.7,367.3 L668.8,366.2 L669.0,365.1 L669.4,364.0 L669.9,363.1 L670.4,362.2 L671.1,361.3 L671.8,360.6 L672.6,360.0 L673.5,359.6 L674.4,359.2 L675.4,359.0 L676.4,358.9 L677.4,359.0" stroke="#2a2a2a" stroke-width="2.6"/>
<path d="M683.0,361.8 L683.8,362.7 L684.5,363.6 L685.1,364.7 L685.7,365.7 L686.1,366.9 L686.4,368.0 L686.6,369.2 L686.7,370.4 L686.7,371.6 L686.6,372.8 L686.4,373.9 L686.0,374.9 L685.6,375.9 L685.0,376.8 L684.4,377.6 L683.6,378.3 L682.8,378.9 L682.0,379.4 L681.1,379.8 L680.1,380.0 L679.1,380.1 L678.1,380.0 L677.1,379.9 L676.1,379.6 L675.1,379.1 L674.1,378.6 L673.2,377.9 L672.3,377.1 L671.6,376.3 L670.9,375.3 L670.2,374.3 L669.7,373.2 L669.3,372.1 L669.0,370.9 L668.7,369.7 L668.7,368.5 L668.7,367.3 L668.8,366.2 L669.0,365.1 L669.4,364.0 L669.9,363.1 L670.4,362.2 L671.1,361.3 L671.8,360.6 L672.6,360.0 L673.5,359.6 L674.4,359.2 L675.4,359.0 L676.4,358.9 L677.4,359.0" stroke="#c8c8c8" stroke-width="0.7"/>
<circle cx="683.0" cy="361.8" r="1.6" fill="#222"/><circle cx="677.4" cy="359.0" r="1.6" fill="#222"/>
</g>

</g>

<!-- leader lines -->
<g class="ld">
<line x1="230.5" y1="21" x2="230.5" y2="33"/>
<line x1="295.5" y1="154" x2="295.5" y2="170"/>
<line x1="337.5" y1="152" x2="337.5" y2="172"/>
<line x1="394.5" y1="111.5" x2="394.5" y2="134.5"/>
<line x1="484.5" y1="119" x2="484.5" y2="132"/>
<line x1="138.5" y1="205" x2="138.5" y2="225"/>
<line x1="62.5" y1="266" x2="62.5" y2="289"/>
<line x1="183.5" y1="293" x2="183.5" y2="324"/>
<line x1="642" y1="307.5" x2="669" y2="307.5"/>
<line x1="506.5" y1="362" x2="506.5" y2="377"/>
<line x1="678.5" y1="380" x2="678.5" y2="395.5"/>
<line x1="104.5" y1="501" x2="104.5" y2="521"/>
<line x1="243.5" y1="479" x2="243.5" y2="493"/>
<line x1="294.5" y1="478" x2="294.5" y2="491"/>
<line x1="356.5" y1="423" x2="356.5" y2="434"/>
<line x1="450.5" y1="446" x2="450.5" y2="458"/>
<line x1="504.5" y1="451" x2="504.5" y2="462"/>
<polyline points="140.5,614 140.5,660.5 269.5,660.5 269.5,573"/>
<line x1="203.5" y1="645" x2="203.5" y2="674"/>
</g>

<!-- labels -->
<g class="lb">
<text id="t1" x="231" y="20" text-anchor="middle">1</text>
<text id="t2" x="182.5" y="341" text-anchor="middle">2</text>
<text id="t3" x="140" y="203" text-anchor="middle">3</text>
<text id="t4" x="295" y="154" text-anchor="middle">4</text>
<text id="t5" x="338.5" y="150" text-anchor="middle">5</text>
<text id="t13" x="394" y="111" text-anchor="middle" style="font-size:12.5px;fill:#3a86aa;stroke:none">13</text>
<text id="t8" x="484.5" y="116.5" text-anchor="middle">8</text>
<text id="t10" x="65.7" y="263" text-anchor="middle">10</text>
<text id="t15" x="680" y="314.5" text-anchor="middle">15</text>
<text id="t16a" x="508.5" y="396" text-anchor="middle">16</text>
<text id="t16b" x="679" y="414.4" text-anchor="middle">16</text>
<text id="t17" x="205.8" y="694" text-anchor="middle">17</text>
<text id="t18a" x="105.2" y="499" text-anchor="middle">18</text>
<text id="t18b" x="248.6" y="477" text-anchor="middle">18</text>
<text id="t19" x="358" y="420.5" text-anchor="middle">19</text>
<text id="t20" x="294.7" y="475" text-anchor="middle">20</text>
<text id="t21" x="454.8" y="442.5" text-anchor="middle">21</text>
<text id="t22" x="501.8" y="448" text-anchor="middle">22</text>
</g>
</svg>
</body></html>
